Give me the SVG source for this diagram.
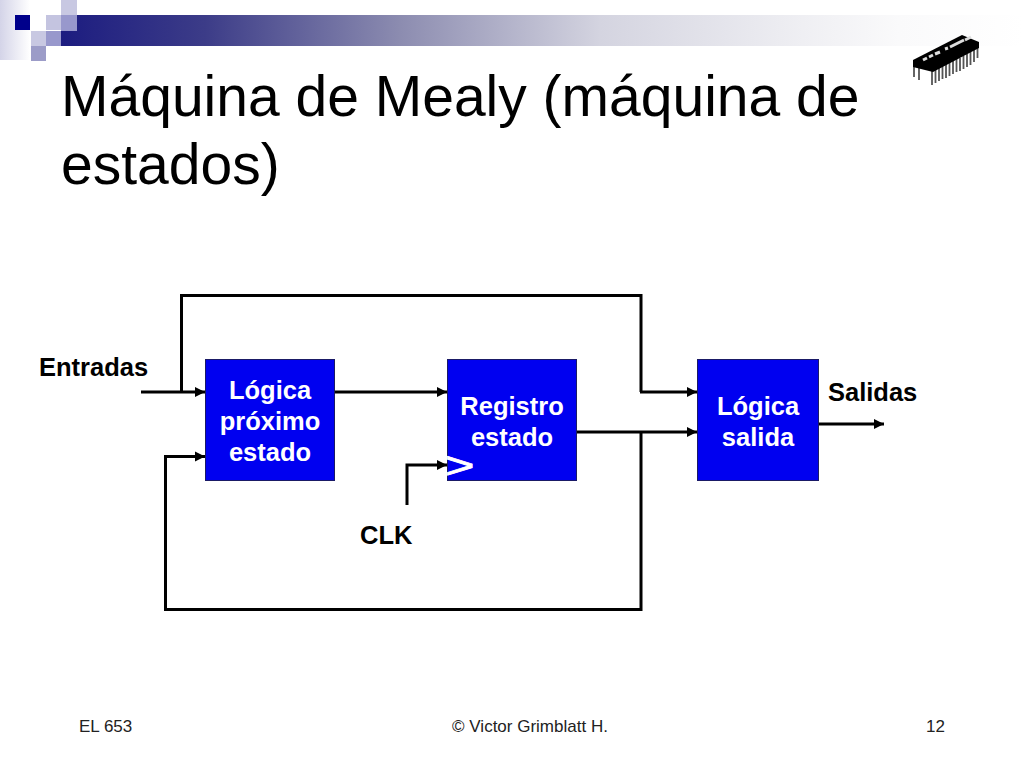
<svg xmlns="http://www.w3.org/2000/svg" width="1024" height="768" viewBox="0 0 1024 768">
<style>
text{font-family:"Liberation Sans",Arial,sans-serif}
.box{fill:#0000f0;stroke:#1a1a66;stroke-width:1}
.lbl{font-size:25.500px;font-weight:bold;fill:#fff;text-anchor:middle}
.sig{font-size:25.500px;font-weight:bold;fill:#000}
.title{font-size:57px;fill:#000}
.foot{font-size:17px;fill:#222}
.w{fill:none;stroke:#000;stroke-width:3;stroke-linejoin:miter}
.a{fill:none;stroke:#000;stroke-width:3;marker-end:url(#ah)}
.pin{stroke:#555;stroke-width:1.800;fill:none}
</style>
<defs>
<marker id="ah" markerUnits="userSpaceOnUse" markerWidth="12" markerHeight="12" refX="10" refY="6" orient="auto"><path d="M0 1L10 6L0 11z" fill="#000"/></marker>
<linearGradient id="bar" x1="0" x2="1" y1="0" y2="0"><stop offset="0" stop-color="#1c1c80"/><stop offset="0.15" stop-color="#3c3c88"/><stop offset="0.352" stop-color="#8c8cb0"/><stop offset="0.56" stop-color="#d4d4e0"/><stop offset="0.77" stop-color="#efeff3"/><stop offset="0.87" stop-color="#fafafb"/><stop offset="1" stop-color="#fff"/></linearGradient>
<linearGradient id="side" x1="0" x2="1" y1="0" y2="0"><stop offset="0" stop-color="#d4d4e8"/><stop offset="1" stop-color="#fff"/></linearGradient>
</defs>
<rect width="1024" height="768" fill="#fff"/>
<g id="decor">
<rect x="0" y="0" width="30" height="60" fill="url(#side)"/>
<rect x="61" y="15" width="963" height="31" fill="url(#bar)"/>
<rect x="15" y="15" width="15" height="15" fill="#00008b"/>
<rect x="46" y="15" width="15" height="15" fill="#c4c4e0"/>
<rect x="61" y="0" width="16" height="15" fill="#c8c8e2"/>
<rect x="61" y="15" width="16" height="16" fill="#9898cc"/>
<rect x="31" y="31" width="15" height="15" fill="#c8c8e2"/>
<rect x="46" y="31" width="15" height="15" fill="#9898cc"/>
<rect x="31" y="46" width="15" height="15" fill="#9c9cc8"/>
</g>
<g id="chip">
<path class="pin" d="M914 66v11M919 66v14M932 68v17M935.500 68v15M939 66v15M942.500 64v15M946 64v14M949.500 62v14M953 60v14M956.500 58v14M960 58v13M963.500 56v13M967 54v13M970.500 52v13M974 50v12M977.500 48v10"/>
<path d="M913 60L962 35L979 42V48L933 72L925 70L913 67z" fill="#000"/>
<path d="M923 60l4-2M929 57l4-2M935 54l5-2M945 49l3-1M950 47l14-7M965 40l6-3" stroke="#ddd" stroke-width="3" fill="none"/>
</g>
<text class="title" x="61" y="116">Máquina de Mealy (máquina de</text>
<text class="title" x="61" y="184">estados)</text>
<g id="connectors">
<path class="a" d="M141 392H205"/>
<path class="w" d="M181.500 392V295.500H641V392"/>
<path class="a" d="M640 392H697"/>
<path class="a" d="M334 392H447"/>
<path class="a" d="M577 432H697"/>
<path class="w" d="M641 432V609.500H165.500V456"/>
<path class="a" d="M164 456.500H205"/>
<path class="a" d="M407 505V465H447"/>
<path class="a" d="M818 424H884"/>
</g>
<g id="logica-proximo">
<rect class="box" x="205.500" y="359.500" width="129" height="121"/>
<text class="lbl" x="270" y="399">Lógica</text>
<text class="lbl" x="270" y="430">próximo</text>
<text class="lbl" x="270" y="461">estado</text>
</g>
<g id="registro-estado">
<rect class="box" x="447.500" y="359.500" width="129" height="121"/>
<text class="lbl" x="512" y="415">Registro</text>
<text class="lbl" x="512" y="446">estado</text>
<text transform="translate(445 478) scale(1.400 1)" font-size="36" fill="#fff" stroke="#fff" stroke-width="0.800">&gt;</text>
</g>
<g id="logica-salida">
<rect class="box" x="697.500" y="359.500" width="121" height="121"/>
<text class="lbl" x="758" y="415">Lógica</text>
<text class="lbl" x="758" y="446">salida</text>
</g>
<g id="labels">
<text class="sig" x="39" y="376">Entradas</text>
<text class="sig" x="828" y="401">Salidas</text>
<text class="sig" x="360" y="544">CLK</text>
</g>
<g id="footer">
<text class="foot" x="79" y="732">EL 653</text>
<text class="foot" x="530" y="732" text-anchor="middle">© Victor Grimblatt H.</text>
<text class="foot" x="945" y="732" text-anchor="end">12</text>
</g>
</svg>
